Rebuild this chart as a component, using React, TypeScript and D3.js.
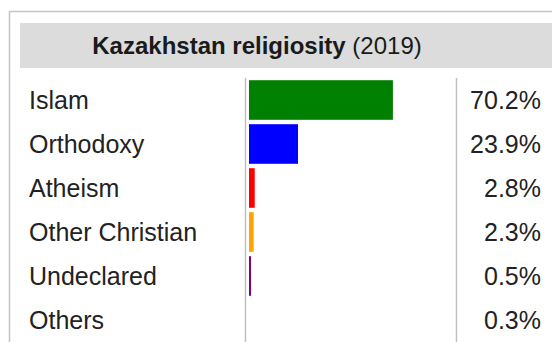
import React from "react";
import * as d3 from "d3";

const categories = ["Islam", "Orthodoxy", "Atheism", "Other Christian", "Undeclared", "Others"];
const values = [70.2, 23.9, 2.8, 2.3, 0.5, 0.3];
const valueLabels = ["70.2%", "23.9%", "2.8%", "2.3%", "0.5%", "0.3%"];
const colors = ["#008000", "#0000ff", "#ff0000", "#ffa500", "#800080", "#999999"];
const titleBold = "Kazakhstan religiosity";
const titleNormal = " (2019)";

const W = 552;
const H = 342;

export default function App() {
  const y = d3.scaleBand<string>().domain(categories).range([78, 342]).paddingInner(0.1).paddingOuter(0.05);
  const x = d3.scaleLinear().domain([0, 100]).range([249, 454]);
  const font = "'Liberation Sans', Arial, Helvetica, sans-serif";
  return (
    <div style={{ position: "absolute", left: 0, top: 0 }}>
      <svg width={W} height={H} style={{ display: "block", background: "#fff" }} fontFamily={font}>
        <path d={`M9.5,${H} V11.5 H${W}`} fill="none" stroke="#c4c4c4" strokeWidth={1.5} />
        <rect x={20} y={23} width={W - 20} height={45} fill="#dcdcdc" />
        <text x={257} y={53.5} textAnchor="middle" fontSize={24} fill="#1a1a1a">
          <tspan fontWeight="bold">{titleBold}</tspan>
          <tspan>{titleNormal}</tspan>
        </text>
        <line x1={245.5} x2={245.5} y1={78} y2={H} stroke="#c0c0c0" strokeWidth={1.5} />
        <line x1={456.5} x2={456.5} y1={78} y2={H} stroke="#c0c0c0" strokeWidth={1.5} />
        {categories.map((c, i) => {
          const yy = y(c)!;
          const cy = yy + y.bandwidth() / 2;
          const w = x(values[i]) - x(0);
          return (
            <g key={c}>
              <text x={29} y={cy + 9} fontSize={25} fill="#222">{c}</text>
              {values[i] >= 0.5 && (
                <rect x={x(0)} y={yy} width={Math.max(w, 2)} height={y.bandwidth()} fill={colors[i]} />
              )}
              <text x={541} y={cy + 9} fontSize={25} fill="#222" textAnchor="end">{valueLabels[i]}</text>
            </g>
          );
        })}
      </svg>
    </div>
  );
}
